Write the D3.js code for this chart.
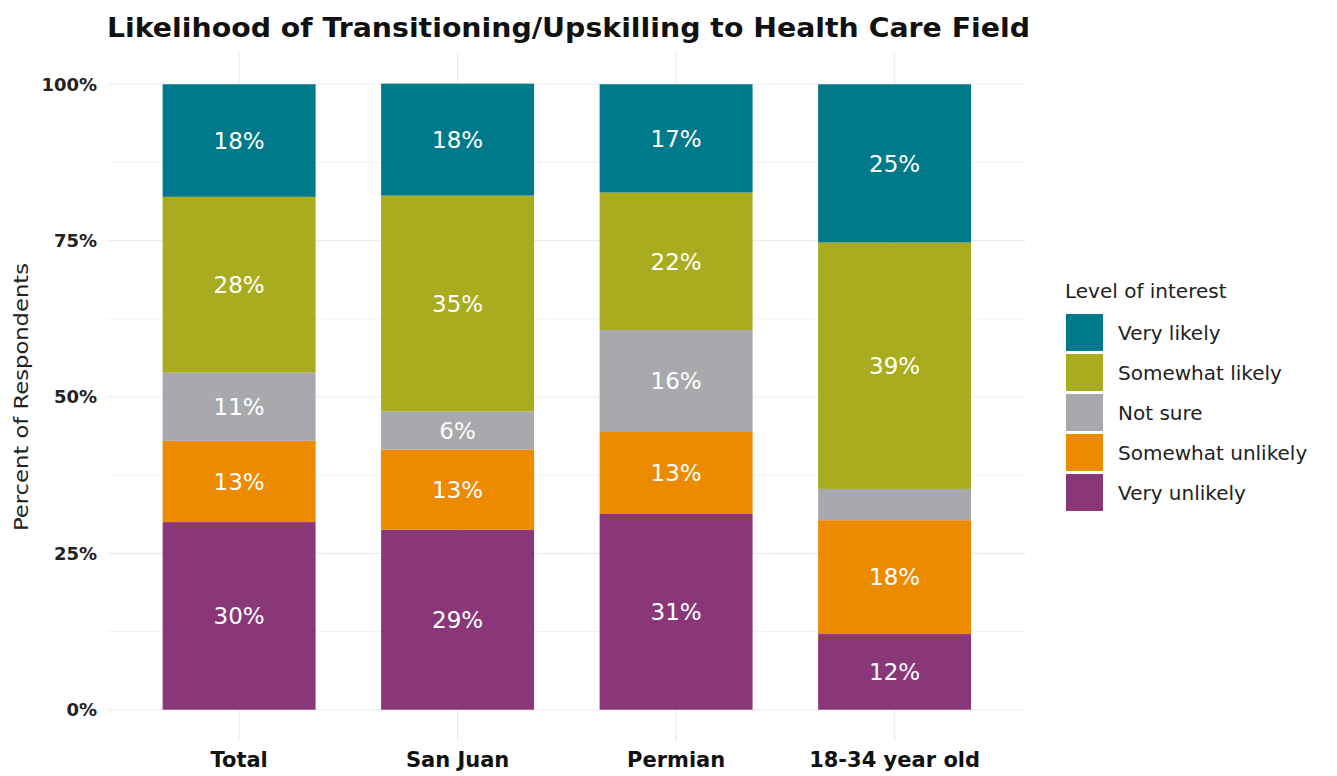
<!DOCTYPE html>
<html>
<head>
<meta charset="utf-8">
<script src="https://d3js.org/d3.v7.min.js"></script>
<style>
  body { margin: 0; background: #fff; }
  text { font-family: "DejaVu Sans", sans-serif; }
</style>
</head>
<body>
<div id="chart"></div>
<script>
  // data (percent of respondents)
  const groups = ["Total", "San Juan", "Permian", "18-34 year old"];
  const levels = ["Very unlikely", "Somewhat unlikely", "Not sure", "Somewhat likely", "Very likely"];
  const veryUnlikely     = [30.0, 28.8, 31.3, 12.1];
  const somewhatUnlikely = [13.0, 12.8, 13.1, 18.2];
  const notSure          = [10.9,  6.1, 16.3,  5.0];
  const somewhatLikely   = [28.1, 34.5, 22.0, 39.4];
  const veryLikely       = [18.0, 17.9, 17.3, 25.3];
  const yTicks = [0, 25, 50, 75, 100];
  const colours = ["#8a3779", "#ec8a00", "#a7a9ac", "#a8ac1e", "#00798a"];

  const W = 1337, H = 776;
  const panel = {left: 108, right: 1025.7, top: 53, bottom: 741};

  const rows = groups.map((g, i) => ({
    group: g,
    "Very unlikely": veryUnlikely[i],
    "Somewhat unlikely": somewhatUnlikely[i],
    "Not sure": notSure[i],
    "Somewhat likely": somewhatLikely[i],
    "Very likely": veryLikely[i]
  }));
  const stacked = d3.stack().keys(levels)(rows);

  const svg = d3.select("#chart").append("svg")
    .attr("width", W).attr("height", H);

  const x = d3.scaleBand().domain(groups)
    .range([panel.left, panel.right])
    .paddingInner(0.3).paddingOuter(0.25);
  const y = d3.scaleLinear().domain([-5, 105]).range([panel.bottom, panel.top]);
  const colour = d3.scaleOrdinal().domain(levels).range(colours);

  // grid
  const grid = svg.append("g");
  d3.range(0, 101, 12.5).forEach(v => {
    grid.append("line")
      .attr("x1", panel.left).attr("x2", panel.right)
      .attr("y1", y(v)).attr("y2", y(v))
      .attr("stroke", "#ebebeb")
      .attr("stroke-width", v % 25 === 0 ? 1.2 : 0.6);
  });
  groups.forEach(g => {
    const cx = x(g) + x.bandwidth() / 2;
    grid.append("line")
      .attr("x1", cx).attr("x2", cx)
      .attr("y1", panel.top).attr("y2", panel.bottom)
      .attr("stroke", "#ebebeb").attr("stroke-width", 1.2);
  });

  // bars
  svg.append("g").selectAll("g")
    .data(stacked).join("g")
    .attr("fill", d => colour(d.key))
    .selectAll("rect")
    .data(d => d).join("rect")
    .attr("x", d => x(d.data.group))
    .attr("width", x.bandwidth())
    .attr("y", d => y(d[1]))
    .attr("height", d => y(d[0]) - y(d[1]));

  // value labels
  svg.append("g").selectAll("g")
    .data(stacked).join("g")
    .selectAll("text")
    .data(d => d.filter(s => s[1] - s[0] >= 5.5)).join("text")
    .attr("x", d => x(d.data.group) + x.bandwidth() / 2)
    .attr("y", d => y((d[0] + d[1]) / 2))
    .attr("dy", "0.36em")
    .attr("text-anchor", "middle")
    .attr("fill", "#fff")
    .attr("font-size", 23)
    .text(d => Math.round(d[1] - d[0]) + "%");

  // y axis
  const yAxis = svg.append("g")
    .attr("transform", `translate(${panel.left},0)`)
    .call(d3.axisLeft(y).tickValues(yTicks).tickFormat(d => d + "%").tickSize(0).tickPadding(11));
  yAxis.select(".domain").remove();
  yAxis.selectAll("text")
    .attr("font-family", "DejaVu Sans").attr("font-size", 18)
    .attr("font-weight", 700).attr("fill", "#222");

  // x axis
  const xAxis = svg.append("g")
    .attr("transform", `translate(0,${panel.bottom})`)
    .call(d3.axisBottom(x).tickSize(0).tickPadding(11));
  xAxis.select(".domain").remove();
  xAxis.selectAll("text")
    .attr("font-family", "DejaVu Sans").attr("font-size", 21)
    .attr("font-weight", 700).attr("fill", "#111");

  // axis title
  svg.append("text")
    .attr("transform", `translate(28,${(panel.top + panel.bottom) / 2}) rotate(-90)`)
    .attr("text-anchor", "middle")
    .attr("font-size", 19).attr("fill", "#222")
    .attr("textLength", 268).attr("lengthAdjust", "spacingAndGlyphs")
    .text("Percent of Respondents");

  // title
  svg.append("text")
    .attr("x", 107).attr("y", 37)
    .attr("font-size", 27).attr("font-weight", 700).attr("fill", "#111")
    .attr("textLength", 923).attr("lengthAdjust", "spacingAndGlyphs")
    .text("Likelihood of Transitioning/Upskilling to Health Care Field");

  // legend
  const legend = svg.append("g").attr("transform", "translate(1065,0)");
  legend.append("text")
    .attr("x", 0).attr("y", 298)
    .attr("font-size", 20).attr("fill", "#222")
    .text("Level of interest");
  levels.slice().reverse().forEach((lv, i) => {
    const top = 314 + i * 40;
    legend.append("rect")
      .attr("x", 1).attr("y", top)
      .attr("width", 37).attr("height", 37)
      .attr("fill", colour(lv));
    legend.append("text")
      .attr("x", 53).attr("y", top + 19)
      .attr("dy", "0.36em")
      .attr("font-size", 20).attr("fill", "#222")
      .text(lv);
  });
</script>
</body>
</html>
